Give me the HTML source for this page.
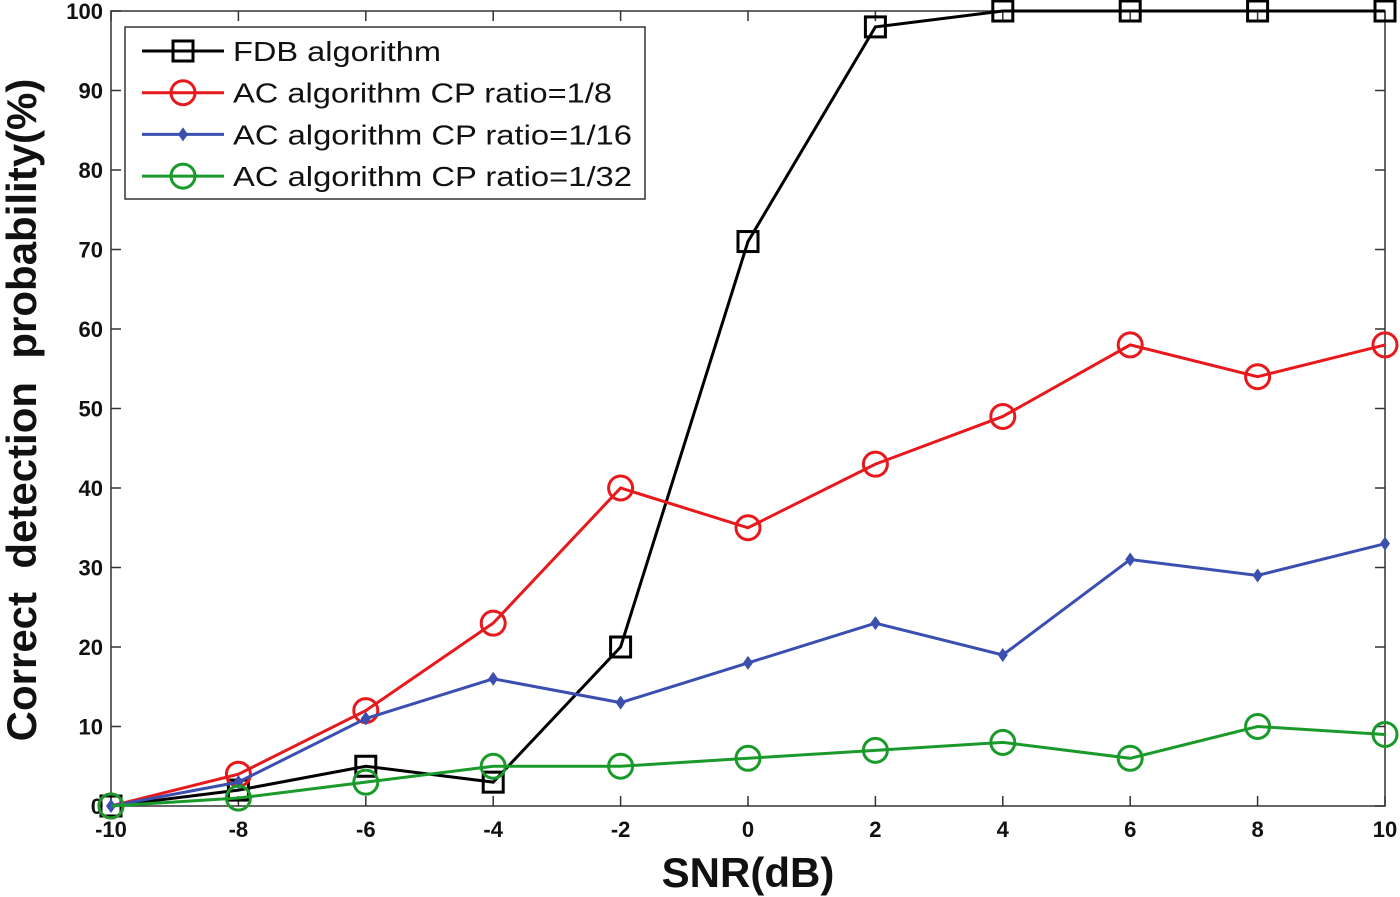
<!DOCTYPE html>
<html><head><meta charset="utf-8"><style>
html,body{margin:0;padding:0;background:#fff;}
svg{display:block;font-family:"Liberation Sans",Arial,sans-serif;}
</style></head><body>
<svg id="chart" width="1400" height="897" viewBox="0 0 1400 897">
<rect x="111" y="11" width="1274" height="795" fill="#fff" stroke="#333" stroke-width="1.5"/>
<g id="ticks"></g>
<g id="series"></g>
<text x="748" y="887" font-size="42" font-weight="bold" text-anchor="middle" fill="#111">SNR(dB)</text>
<text transform="translate(36,410) rotate(-90)" font-size="42" font-weight="bold" text-anchor="middle" fill="#111">Correct &#160;detection &#160;probability(%)</text>
<g id="legend">
<rect x="125" y="27" width="520" height="172" fill="#fff" stroke="#333" stroke-width="1.5"/>
</g>
</svg>
<script>
const snr = [-10,-8,-6,-4,-2,0,2,4,6,8,10];
const fdb = [0,2,5,3,20,71,98,100,100,100,100];
const cp8 = [0,4,12,23,40,35,43,49,58,54,58];
const cp16 = [0,3,11,16,13,18,23,19,31,29,33];
const cp32 = [0,1,3,5,5,6,7,8,6,10,9];
const xTicks = [-10,-8,-6,-4,-2,0,2,4,6,8,10];
const yTicks = [0,10,20,30,40,50,60,70,80,90,100];
const seriesNames = ["FDB algorithm","AC algorithm CP ratio=1/8","AC algorithm CP ratio=1/16","AC algorithm CP ratio=1/32"];
const legendWidths = [208,379,399,399];

const NS="http://www.w3.org/2000/svg";
const X0=111,X1=1385,Y0=806,Y1=11;
const xs=v=>X0+(v+10)/20*(X1-X0);
const ys=v=>Y0-v/100*(Y0-Y1);
function mk(tag,attrs,parent){const e=document.createElementNS(NS,tag);for(const k in attrs)e.setAttribute(k,attrs[k]);parent.appendChild(e);return e;}
const tg=document.getElementById('ticks');
xTicks.forEach(t=>{
  const x=xs(t);
  mk('line',{x1:x,x2:x,y1:Y0,y2:Y0-10,stroke:'#333','stroke-width':1.5},tg);
  mk('line',{x1:x,x2:x,y1:Y1,y2:Y1+10,stroke:'#333','stroke-width':1.5},tg);
  const tx=mk('text',{x:x,y:837,'font-size':22,'font-weight':'bold','text-anchor':'middle',fill:'#111'},tg);
  tx.textContent=t;
  
  
});
yTicks.forEach(t=>{
  const y=ys(t);
  mk('line',{x1:X0,x2:X0+10,y1:y,y2:y,stroke:'#333','stroke-width':1.5},tg);
  mk('line',{x1:X1,x2:X1-10,y1:y,y2:y,stroke:'#333','stroke-width':1.5},tg);
  const tx=mk('text',{x:103,y:y+8,'font-size':22,'font-weight':'bold','text-anchor':'end',fill:'#111'},tg);
  tx.textContent=t;
  
  
});
function marker(type,x,y,color,g){
  if(type==='sq') return mk('rect',{x:x-10,y:y-10,width:20,height:20,fill:'none',stroke:color,'stroke-width':3},g);
  if(type==='ci') return mk('circle',{cx:x,cy:y,r:12,fill:'none',stroke:color,'stroke-width':3},g);
  return mk('path',{d:`M${x},${y-7}L${x+5},${y}L${x},${y+7}L${x-5},${y}Z`,fill:color},g);
}
const sg=document.getElementById('series');
const defs=[[fdb,'#000','sq','fdb'],[cp8,'#e8191d','ci','cp-1-8'],[cp16,'#3a4fb0','di','cp-1-16'],[cp32,'#1a9a2a','ci','cp-1-32']];
defs.forEach(([vals,c,m,nm])=>{
  const g=mk('g',{},sg);
  
  
  mk('polyline',{points:vals.map((v,i)=>xs(snr[i])+','+ys(v)).join(' '),fill:'none',stroke:c,'stroke-width':3},g);
  vals.forEach((v,i)=>{
    const p=marker(m,xs(snr[i]),ys(v),c,g);
    
    
  });
});
const lg=document.getElementById('legend');
defs.forEach(([vals,c,m,nm],i)=>{
  const y=51+i*41.7;
  mk('line',{x1:142,x2:224,y1:y,y2:y,stroke:c,'stroke-width':3},lg);
  marker(m,183,y,c,lg);
  const t=mk('text',{x:233,y:y+10,'font-size':28,fill:'#111',textLength:legendWidths[i],lengthAdjust:'spacingAndGlyphs'},lg);
  t.textContent=seriesNames[i];
  
  
});
</script>
</body></html>
